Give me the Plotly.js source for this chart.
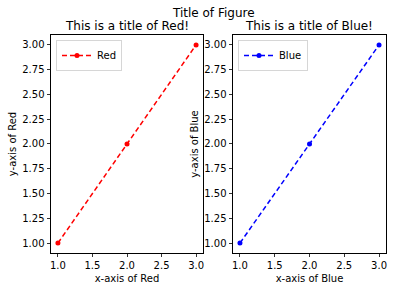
<!DOCTYPE html>
<html>
<head>
<meta charset="utf-8">
<script src="https://cdn.plot.ly/plotly-3.0.1.min.js"></script>
<style>html,body{margin:0;padding:0;background:#fff;}#chart{width:393px;height:291px;}</style>
</head>
<body>
<div id="chart"></div>
<script>
// Values for both panels
const xValues = [1, 2, 3];
const redValues = [1, 2, 3];
const blueValues = [1, 2, 3];
const seriesNames = ['Red', 'Blue'];
const figureTitle = 'Title of Figure';
const panelTitles = ['This is a title of Red!', 'This is a title of Blue!'];
const xTitles = ['x-axis of Red', 'x-axis of Blue'];
const yTitles = ['y-axis of Red', 'y-axis of Blue'];

const FONT = 'DejaVu Sans, Liberation Sans, sans-serif';

const traces = [
  {
    x: xValues, y: redValues, name: seriesNames[0],
    type: 'scatter', mode: 'lines+markers',
    line: {color: '#ff0000', dash: '5px,3px', width: 1.5},
    marker: {color: '#ff0000', size: 5},
    xaxis: 'x', yaxis: 'y', legend: 'legend'
  },
  {
    x: xValues, y: blueValues, name: seriesNames[1],
    type: 'scatter', mode: 'lines+markers',
    line: {color: '#0000ff', dash: '5px,3px', width: 1.5},
    marker: {color: '#0000ff', size: 5},
    xaxis: 'x2', yaxis: 'y2', legend: 'legend2'
  }
];

function xAxis(domain, title, anchor) {
  return {
    domain: domain, anchor: anchor, range: [0.9, 3.1],
    dtick: 0.5, tick0: 0, tickformat: '.1f',
    showgrid: false, zeroline: false,
    showline: true, mirror: true, linecolor: '#000', linewidth: 1,
    ticks: 'outside', ticklen: 3.5, tickwidth: 0.8, tickcolor: '#000',
    tickfont: {family: FONT, size: 10, color: '#000'},
    title: {text: title, font: {family: FONT, size: 10, color: '#000'}, standoff: 4}
  };
}
function yAxis(domain, title, anchor) {
  return {
    domain: domain, anchor: anchor, range: [0.9, 3.1],
    dtick: 0.25, tick0: 0, tickformat: '.2f',
    showgrid: false, zeroline: false,
    showline: true, mirror: true, linecolor: '#000', linewidth: 1,
    ticks: 'outside', ticklen: 3.5, tickwidth: 0.8, tickcolor: '#000',
    tickfont: {family: FONT, size: 10, color: '#000'},
    title: {text: title, font: {family: FONT, size: 10, color: '#000'}, standoff: 3}
  };
}

const legendStyle = (x) => ({
  x: x, y: 0.8625, xanchor: 'left', yanchor: 'top',
  bgcolor: 'rgba(255,255,255,0.8)', bordercolor: '#d6d6d6', borderwidth: 1,
  itemwidth: 30,
  font: {family: FONT, size: 10, color: '#000'}
});

const layout = {
  width: 393, height: 291,
  margin: {l: 0, r: 0, t: 0, b: 0},
  paper_bgcolor: '#fff', plot_bgcolor: '#fff',
  font: {family: FONT, color: '#000'},
  showlegend: true,
  xaxis: xAxis([0.1298, 0.5165], xTitles[0], 'y'),
  yaxis: yAxis([0.1306, 0.8797], yTitles[0], 'x'),
  xaxis2: xAxis([0.5929, 0.9822], xTitles[1], 'y2'),
  yaxis2: yAxis([0.1306, 0.8797], yTitles[1], 'x2'),
  legend: legendStyle(0.1425),
  legend2: legendStyle(0.6056),
  annotations: [
    {text: figureTitle, xref: 'paper', yref: 'paper', x: 0.542, y: 0.956,
     xanchor: 'center', yanchor: 'middle', showarrow: false,
     font: {family: FONT, size: 12, color: '#000'}},
    {text: panelTitles[0], xref: 'paper', yref: 'paper', x: 0.3232, y: 0.912,
     xanchor: 'center', yanchor: 'middle', showarrow: false,
     font: {family: FONT, size: 12, color: '#000'}},
    {text: panelTitles[1], xref: 'paper', yref: 'paper', x: 0.7875, y: 0.912,
     xanchor: 'center', yanchor: 'middle', showarrow: false,
     font: {family: FONT, size: 12, color: '#000'}}
  ]
};

Plotly.newPlot('chart', traces, layout, {staticPlot: true, displayModeBar: false});
</script>
</body>
</html>
